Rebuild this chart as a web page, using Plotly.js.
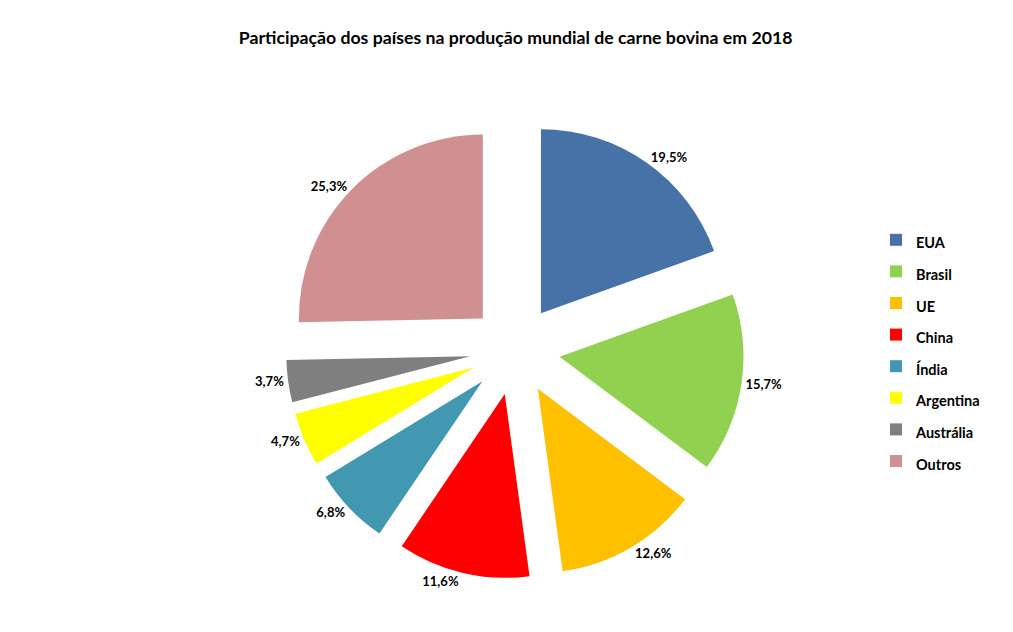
<!DOCTYPE html>
<html>
<head>
<meta charset="utf-8">
<script src="https://cdn.plot.ly/plotly-3.0.1.min.js"></script>
<style>html,body{margin:0;padding:0;background:#fff;}#chart{width:1013px;height:632px;}</style>
</head>
<body>
<div id="chart"></div>
<script>
const countries = ["EUA", "Brasil", "UE", "China", "Índia", "Argentina", "Austrália", "Outros"];
const shares = [19.5, 15.7, 12.6, 11.6, 6.8, 4.7, 3.7, 25.3];
const sliceColors = ["#4672A8", "#92D050", "#FFC000", "#FF0000", "#4298B0", "#FFFF00", "#7F7F7F", "#D09091"];

const FONT = "Lato, 'Open Sans', sans-serif";
const pctText = shares.map(v => v.toFixed(1).replace('.', ',') + '%');
const legendLabels = countries.map(n => '<span style="font-size:14.5px">' + n + '</span>');

const trace = {
  type: 'pie',
  labels: legendLabels,
  values: shares,
  text: pctText,
  textinfo: 'text',
  textposition: 'outside',
  sort: false,
  direction: 'clockwise',
  rotation: 0,
  pull: 0.245,
  marker: {colors: sliceColors, line: {width: 0}},
  outsidetextfont: {family: FONT, size: 13, color: '#000', weight: 'bold'},
  domain: {x: [286/1013, 744/1013], y: [1 - 579/632, 1 - 121/632]},
  automargin: false,
  hoverinfo: 'label+percent'
};

const layout = {
  width: 1013,
  height: 632,
  margin: {l: 0, r: 0, t: 0, b: 0},
  paper_bgcolor: '#fff',
  title: {
    text: 'Participação dos países na produção mundial de carne bovina em 2018',
    font: {family: FONT, size: 17.7, color: '#000', weight: 'bold'},
    x: 0.509, xanchor: 'center', y: 1 - 38/632, yanchor: 'middle'
  },
  showlegend: true,
  legend: {
    x: 876/1013, xanchor: 'left',
    y: 1 - 219/632, yanchor: 'top',
    font: {family: FONT, size: 22, color: '#000', weight: 'bold'},
    itemclick: false, itemdoubleclick: false,
    bgcolor: 'rgba(0,0,0,0)'
  }
};

Plotly.newPlot('chart', [trace], layout, {displayModeBar: false, staticPlot: true});
</script>
</body>
</html>
